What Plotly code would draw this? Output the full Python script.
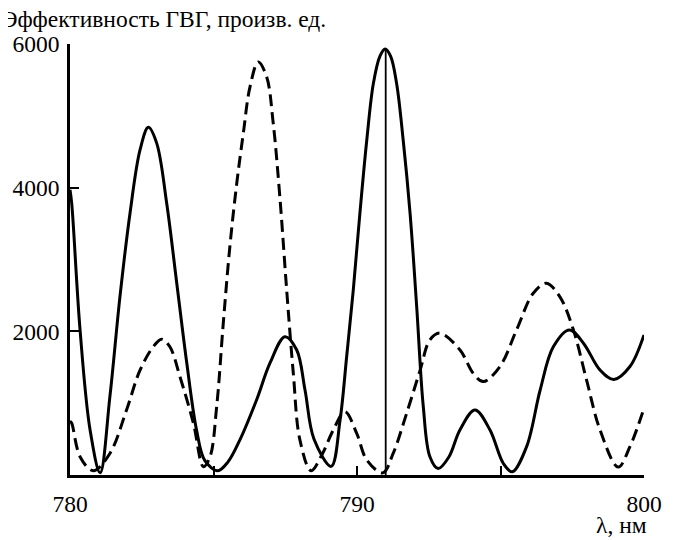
import plotly.graph_objects as go

# Wavelength (nm) and SHG efficiency (arb. units)
solid_lambda = [780.0, 780.06, 780.35, 780.7, 781.05, 781.39, 781.74, 782.09, 782.44, 782.73,
                783.02, 783.37, 783.72, 784.07, 784.41, 784.7, 785.15, 785.5, 785.92, 786.5,
                786.97, 787.49, 787.9, 788.19, 788.5, 789.1, 789.41, 789.64, 789.87, 790.1,
                790.34, 790.57, 790.8, 790.98, 791.17, 791.38, 791.61, 791.85, 792.08, 792.31,
                792.54, 792.83, 793.2, 793.59, 794.11, 794.63, 795.1, 795.41, 795.91, 796.38,
                796.84, 797.4, 797.89, 798.47, 798.95, 799.51, 800.0]
solid_eff = [3970, 3780, 2020, 625, 30, 1090, 2480, 3640, 4525, 4840,
             4620, 3780, 2670, 1555, 625, 200, 60, 180, 490, 1045,
             1560, 1925, 1740, 1180, 500, 120, 765, 1650, 2575, 3640,
             4660, 5450, 5830, 5930, 5830, 5450, 4660, 3640, 2340, 950,
             255, 90, 250, 630, 905, 630, 160, 45, 395, 1180,
             1785, 2020, 1835, 1460, 1330, 1510, 1950]

dashed_lambda = [780.0, 780.06, 780.35, 780.81, 781.39, 781.97, 782.44, 782.9, 783.19, 783.48,
                 783.83, 784.3, 784.65, 784.88, 785.11, 785.34, 785.57, 785.81, 786.04, 786.27,
                 786.56, 786.85, 787.08, 787.32, 787.55, 787.78, 788.01, 788.4, 788.8, 789.17,
                 789.58, 789.99, 790.34, 790.9, 791.26, 791.73, 792.2, 792.54, 792.89, 793.59,
                 794.05, 794.4, 794.98, 795.56, 796.14, 796.6, 797.07, 797.54, 798.0, 798.47,
                 799.1, 799.51, 800.0]
dashed_eff = [750, 720, 255, 60, 300, 905, 1460, 1785, 1890, 1785,
              1370, 720, 116, 255, 950, 2110, 3180, 4060, 4760, 5400,
              5750, 5545, 4900, 3830, 2575, 1420, 490, 60, 300, 625,
              880, 580, 210, 30, 300, 860, 1460, 1880, 1975, 1740,
              1415, 1300, 1510, 2020, 2530, 2670, 2480, 2020, 1320, 625,
              110, 395, 930]

marker_lambda = [791.0, 791.0]
marker_eff = [0, 5930]

x_tickvals = [780, 785, 790, 795, 800]
x_ticktext = ["780", "", "790", "", "800"]
y_tickvals = [2000, 4000, 6000]
y_ticktext = ["2000", "4000", "6000"]

FONT = "Liberation Serif"

fig = go.Figure()
fig.add_trace(go.Scatter(x=solid_lambda, y=solid_eff, mode="lines",
                         line=dict(color="black", width=3, shape="spline", smoothing=1.0),
                         showlegend=False, hoverinfo="skip"))
fig.add_trace(go.Scatter(x=dashed_lambda, y=dashed_eff, mode="lines",
                         line=dict(color="black", width=3, dash="12px,6px", shape="spline", smoothing=1.0),
                         showlegend=False, hoverinfo="skip"))
fig.add_trace(go.Scatter(x=marker_lambda, y=marker_eff, mode="lines",
                         line=dict(color="black", width=1.8),
                         showlegend=False, hoverinfo="skip"))

# the page body has an 8px margin: size the figure so the plot lands where the reference has it
fig.update_layout(
    width=670, height=532,
    margin=dict(l=62, r=34, t=36, b=65, autoexpand=False),
    paper_bgcolor="white", plot_bgcolor="white",
    font=dict(family=FONT, size=23.5, color="black"),
    xaxis=dict(range=[780, 800], tickvals=x_tickvals, ticktext=x_ticktext,
               ticks="inside", ticklen=9, tickwidth=2, tickcolor="black",
               showline=True, linewidth=2.5, linecolor="black", automargin=False,
               ticklabelstandoff=6,
               showgrid=False, zeroline=False, fixedrange=True),
    yaxis=dict(range=[0, 6000], tickvals=y_tickvals, ticktext=y_ticktext,
               ticks="inside", ticklen=9, tickwidth=2, tickcolor="black",
               showline=True, linewidth=2.5, linecolor="black", automargin=False,
               ticklabelstandoff=3,
               showgrid=False, zeroline=False, fixedrange=True),
    annotations=[
        dict(text="Эффективность ГВГ, произв. ед.", xref="paper", yref="paper",
             x=0, y=1, xanchor="left", yanchor="middle", xshift=-69, yshift=25,
             borderpad=0, showarrow=False, font=dict(family=FONT, size=23.5)),
        dict(text="λ, нм", xref="paper", yref="paper",
             x=1, y=0, xanchor="right", yanchor="middle", xshift=4, yshift=-50,
             borderpad=0, showarrow=False, font=dict(family=FONT, size=23.5)),
    ],
)

fig.write_html("out.html")
